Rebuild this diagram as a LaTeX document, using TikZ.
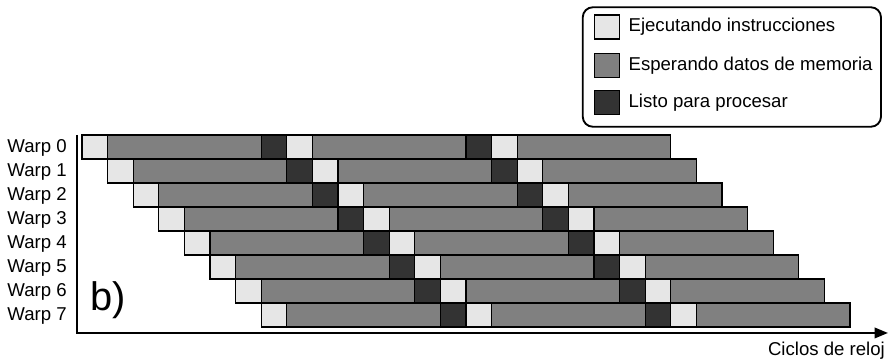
\documentclass[tikz,border=0pt]{standalone}
\usepackage{fontspec}
\setmainfont{Liberation Sans}
\usepackage{tikz}
\usetikzlibrary{arrows.meta, positioning}
\definecolor{execgray}{HTML}{E6E6E6}
\definecolor{waitgray}{HTML}{808080}
\definecolor{readygray}{HTML}{333333}
\tikzset{
    chart/.style={font=\fontsize{14}{16}\selectfont, x=0.6774cm, y=0.635cm},
    chart cell/.style={draw, line width=0.8pt},
    exec cell/.style={chart cell, fill=execgray},
    wait cell/.style={chart cell, fill=waitgray},
    ready cell/.style={chart cell, fill=readygray},
    chart axis/.style={line width=1.2pt},
    chart label/.style={inner sep=0pt},
}

\begin{document}
\begin{tikzpicture}[
        chart,
        legend box/.style={draw, rounded corners=7.5pt, line width=1.4pt,
            minimum width=7.89cm, minimum height=3.16cm},
        swatch/.style={chart cell, minimum width=0.6774cm,
            minimum height=0.635cm, inner sep=0pt}
    ]
        \useasboundingbox (-3.203,-9.542) rectangle (31.523,5.625);

        \foreach \w in {0,...,7} {
            \foreach \p in {0,8,16} {
                \draw[exec cell] ({\w+\p},-\w) rectangle ++(1,-1);
                \draw[wait cell] ({\w+\p+1},-\w) rectangle ++(6,-1);
            }
            \foreach \p in {7,15}
                \draw[ready cell] ({\w+\p},-\w) rectangle ++(1,-1);
            \node[chart label, anchor=base east] (warp\w)
                at (-0.586,{-\w-0.73}) {Warp \w};
        }

        \coordinate (ytop) at (-0.195,0);
        \coordinate (origin) at (-0.195,-8.25);
        \coordinate (xend) at (31.48,-8.25);
        \draw[chart axis, -{Triangle[length=10pt,width=8pt]}]
            (ytop) -- (origin) -- (xend);

        \node[chart label, anchor=base east] (clock) at (31.37,-9.17)
            {Ciclos de reloj};
        \node[chart label, anchor=base west, font=\fontsize{30}{32}\selectfont]
            (panel) at (0.31,-7.32) {b)};

        \node[legend box] (legend) at (25.385,2.833) {};
        \node[swatch, fill=execgray] (execkey) at (20.51,4.5) {};
        \node[swatch, fill=waitgray] (waitkey) at (20.51,2.9) {};
        \node[swatch, fill=readygray] (readykey) at (20.51,1.36) {};
        \node[chart label, right=0.21cm of execkey] (exectext)
            {Ejecutando instrucciones};
        \node[chart label, right=0.21cm of waitkey] (waittext)
            {Esperando datos de memoria};
        \node[chart label, right=0.21cm of readykey] (readytext)
            {Listo para procesar};
    \end{tikzpicture}
\end{document}
